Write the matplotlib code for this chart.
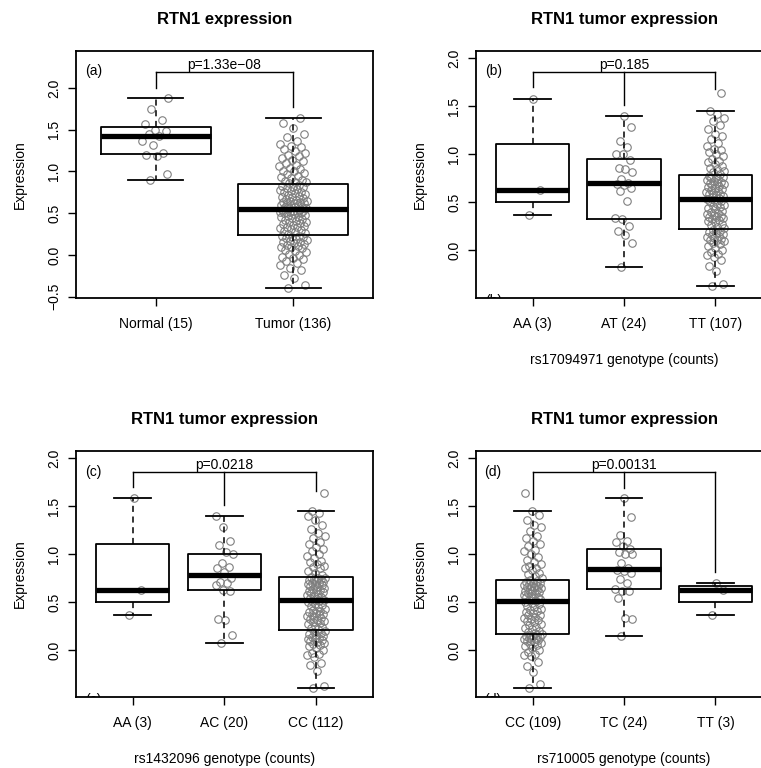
import matplotlib
matplotlib.use("Agg")
import matplotlib.pyplot as plt
import numpy as np

plt.rcParams["font.family"] = ["Liberation Sans", "DejaVu Sans"]

# ---- data (expression values) ----
normal = [0.90, 0.97, 1.18, 1.20, 1.22, 1.32, 1.37, 1.43, 1.45, 1.48, 1.50,
          1.57, 1.62, 1.75, 1.88]
tumor = [-0.40, -0.36, -0.28, -0.24, -0.18, -0.15, -0.12, -0.10, -0.07, -0.05,
         -0.04, -0.02, 0.00, 0.01, 0.03, 0.05, 0.06, 0.08, 0.09, 0.10, 0.11,
         0.12, 0.13, 0.14, 0.15, 0.16, 0.17, 0.18, 0.19, 0.20, 0.21, 0.22,
         0.23, 0.23,
         0.25, 0.26, 0.28, 0.29, 0.30, 0.31, 0.32, 0.33, 0.34, 0.35, 0.36,
         0.37, 0.38, 0.39, 0.40, 0.41, 0.42, 0.43, 0.44, 0.45, 0.46, 0.47,
         0.48, 0.49, 0.50, 0.50, 0.51, 0.51, 0.52, 0.52, 0.53, 0.53, 0.54, 0.54,
         0.56, 0.56, 0.57, 0.58, 0.58, 0.59, 0.60, 0.60, 0.61, 0.62, 0.62,
         0.63, 0.64, 0.65, 0.65, 0.66, 0.67, 0.68, 0.69, 0.70, 0.71, 0.72,
         0.73, 0.74, 0.75, 0.76, 0.77, 0.78, 0.79, 0.80, 0.81, 0.82, 0.83, 0.84,
         0.86, 0.87, 0.88, 0.89, 0.90, 0.92, 0.93, 0.95, 0.97, 0.98, 1.00,
         1.01, 1.03, 1.04, 1.06, 1.08, 1.10, 1.12, 1.14, 1.16, 1.18, 1.20,
         1.22, 1.24, 1.27, 1.29, 1.30, 1.33, 1.37, 1.41, 1.45, 1.52, 1.58, 1.64]

# rs17094971
b_aa = [0.37, 0.63, 1.58]
b_at = [-0.18, 0.07, 0.16, 0.20, 0.25, 0.32, 0.33, 0.51, 0.62, 0.65, 0.68,
        0.69, 0.70, 0.74, 0.81, 0.85, 0.86, 0.94, 1.00, 1.00, 1.08, 1.14,
        1.28, 1.40]
b_tt = [-0.38, -0.35, -0.22, -0.17, -0.10, -0.07, -0.05, -0.04, -0.02, 0.00,
        0.02, 0.04, 0.06, 0.07, 0.09, 0.10, 0.11, 0.12, 0.13, 0.14, 0.15,
        0.16, 0.17, 0.18, 0.19, 0.20, 0.21,
        0.23, 0.24, 0.26, 0.27, 0.29, 0.30, 0.31, 0.32, 0.33, 0.34, 0.35,
        0.36, 0.37, 0.38, 0.39, 0.40, 0.41, 0.43, 0.44, 0.45, 0.46, 0.47,
        0.48, 0.50, 0.51, 0.52, 0.53,
        0.54, 0.55, 0.56, 0.57, 0.58, 0.59, 0.60, 0.61, 0.62, 0.63, 0.64,
        0.65, 0.66, 0.67, 0.68, 0.69, 0.70, 0.70, 0.71, 0.72, 0.73, 0.74,
        0.75, 0.76, 0.76, 0.77,
        0.79, 0.81, 0.83, 0.85, 0.86, 0.88, 0.90, 0.92, 0.93, 0.95, 0.98,
        1.00, 1.02, 1.04, 1.05, 1.09, 1.12, 1.16, 1.19, 1.21, 1.26, 1.30,
        1.35, 1.38, 1.42, 1.45, 1.64]

# rs1432096
c_aa = [0.37, 0.63, 1.58]
c_ac = [0.07, 0.16, 0.31, 0.32, 0.62, 0.63, 0.68, 0.70, 0.71, 0.75, 0.81,
        0.85, 0.87, 0.91, 1.00, 1.02, 1.09, 1.14, 1.28, 1.40]
c_cc = [-0.40, -0.37, -0.22, -0.16, -0.14, -0.07, -0.05, -0.04, -0.03, 0.00,
        0.02, 0.04, 0.05, 0.06, 0.07, 0.08, 0.09, 0.10, 0.11, 0.12, 0.13,
        0.14, 0.15, 0.16, 0.17, 0.18, 0.19, 0.20,
        0.215, 0.23, 0.24, 0.25, 0.27, 0.28, 0.29, 0.30, 0.31, 0.32, 0.33,
        0.34, 0.35, 0.36, 0.37, 0.38, 0.39, 0.40, 0.41, 0.42, 0.43, 0.45,
        0.46, 0.47, 0.48, 0.50, 0.51, 0.515,
        0.525, 0.53, 0.54, 0.55, 0.56, 0.57, 0.58, 0.59, 0.60, 0.61, 0.62,
        0.63, 0.64, 0.65, 0.66, 0.67, 0.68, 0.68, 0.69, 0.70, 0.70, 0.71,
        0.72, 0.73, 0.74, 0.74, 0.75, 0.755,
        0.765, 0.78, 0.80, 0.82, 0.85, 0.87, 0.88, 0.90, 0.92, 0.93, 0.96,
        0.98, 1.00, 1.03, 1.05, 1.07, 1.10, 1.13, 1.17, 1.19, 1.22, 1.26,
        1.30, 1.35, 1.40, 1.43, 1.45, 1.64]

# rs710005
d_cc = [-0.40, -0.35, -0.23, -0.17, -0.12, -0.06, -0.05, -0.04, -0.02, 0.00,
        0.02, 0.04, 0.05, 0.06, 0.07, 0.08, 0.09, 0.10, 0.11, 0.12, 0.12,
        0.13, 0.14, 0.15, 0.15, 0.16, 0.16, 0.17,
        0.18, 0.19, 0.20, 0.22, 0.23, 0.24, 0.26, 0.27, 0.29, 0.30, 0.31,
        0.32, 0.33, 0.34, 0.36, 0.37, 0.39, 0.40, 0.41, 0.42, 0.43, 0.45,
        0.46, 0.48, 0.49, 0.50, 0.51,
        0.52, 0.53, 0.54, 0.55, 0.55, 0.56, 0.57, 0.58, 0.59, 0.60, 0.61,
        0.62, 0.63, 0.64, 0.65, 0.66, 0.66, 0.67, 0.67, 0.68, 0.68, 0.69,
        0.70, 0.70, 0.71, 0.72, 0.73,
        0.75, 0.77, 0.79, 0.80, 0.83, 0.85, 0.86, 0.88, 0.90, 0.92, 0.94,
        0.97, 1.00, 1.03, 1.04, 1.08, 1.10, 1.14, 1.17, 1.19, 1.24, 1.28,
        1.30, 1.36, 1.41, 1.45, 1.64]
d_tc = [0.15, 0.32, 0.33, 0.54, 0.62, 0.62, 0.64, 0.70, 0.74, 0.80, 0.82,
        0.83, 0.85, 0.91, 1.00, 1.00, 1.02, 1.05, 1.08, 1.13, 1.14, 1.20,
        1.39, 1.58]
d_tt = [0.37, 0.63, 0.70]

labels_a = ["Normal (15)", "Tumor (136)"]
labels_b = ["AA (3)", "AT (24)", "TT (107)"]
labels_c = ["AA (3)", "AC (20)", "CC (112)"]
labels_d = ["CC (109)", "TC (24)", "TT (3)"]

pvals = ["p=1.33e\u221208", "p=0.185", "p=0.0218", "p=0.00131"]

# bracket: top line height and where each drop ends
bracket_top = [2.195, 1.86, 1.86, 1.86]
bracket_ends = [[2.00, 1.77], [1.70, 1.51, 1.68], [1.70, 1.51, 1.66],
                [1.57, 1.69, 0.81]]

POINT_COLOR = "#7f7f7f"


def draw_panel(ax, groups, labels, pval, top, ends, tag, ylim, yticks,
               title, xlabel=None, ghost_tag=True):
    n = len(groups)
    pos = np.arange(1, n + 1)

    # jittered open circles
    for p, g in zip(pos, groups):
        k = np.arange(len(g))
        jit = ((k * 0.618034 + 0.31) % 1.0 - 0.5) * 0.2
        ax.plot(p + jit, g, "o", ms=5.4, mfc="none", mec=POINT_COLOR,
                mew=0.8, zorder=1)

    ax.boxplot(groups, positions=pos, widths=0.8, showfliers=False,
               whis=1.5, capwidths=0.4, patch_artist=False,
               boxprops=dict(color="black", lw=1.3),
               medianprops=dict(color="black", lw=3.8, solid_capstyle="butt"),
               whiskerprops=dict(color="black", lw=1.1, linestyle=(0, (4, 3))),
               capprops=dict(color="black", lw=1.3), zorder=2)

    # significance bracket
    ax.plot([pos[0], pos[-1]], [top, top], color="black", lw=1.0, zorder=3)
    for p, e in zip(pos, ends):
        ax.plot([p, p], [e, top], color="black", lw=1.0, zorder=3)
    ax.text((pos[0] + pos[-1]) / 2, top - 0.005, pval, ha="center",
            va="bottom", fontsize=10)

    ax.text(0.058, 0.916, tag, transform=ax.transAxes, ha="center",
            va="center", fontsize=10)
    if ghost_tag:
        ax.text(0.058, -0.012, tag, transform=ax.transAxes, ha="center",
                va="center", fontsize=10, clip_on=True)

    ax.set_xlim(0.5 - 0.04 * n, n + 0.5 + 0.04 * n)
    ax.set_ylim(*ylim)
    ax.set_xticks(pos)
    ax.set_xticklabels(labels, fontsize=10)
    ax.set_yticks(yticks)
    ax.set_yticklabels([f"{t:.1f}".replace("-", "\u2212") for t in yticks],
                       rotation=90, va="center", fontsize=10)
    ax.tick_params(direction="out", length=5.5, width=1.0)
    ax.tick_params(axis="x", pad=8)
    ax.tick_params(axis="y", pad=5)
    ax.set_ylabel("Expression", fontsize=10, labelpad=15)
    if xlabel:
        ax.set_xlabel(xlabel, fontsize=10, labelpad=16)
    for s in ax.spines.values():
        s.set_linewidth(1.3)
    ax.set_title(title, fontsize=12, fontweight="bold", pad=19.5)


fig = plt.figure(figsize=(7.61, 7.68), dpi=100)
fig.patch.set_facecolor("white")

ax_a = fig.add_axes([0.0999, 0.612, 0.390, 0.322])
ax_b = fig.add_axes([0.6255, 0.612, 0.389, 0.322])
ax_c = fig.add_axes([0.0999, 0.092, 0.390, 0.321])
ax_d = fig.add_axes([0.6255, 0.092, 0.389, 0.321])

draw_panel(ax_a, [normal, tumor], labels_a, pvals[0], bracket_top[0],
           bracket_ends[0], "(a)", (-0.515, 2.447),
           [-0.5, 0.0, 0.5, 1.0, 1.5, 2.0], "RTN1 expression",
           ghost_tag=False)
draw_panel(ax_b, [b_aa, b_at, b_tt], labels_b, pvals[1], bracket_top[1],
           bracket_ends[1], "(b)", (-0.50, 2.08),
           [0.0, 0.5, 1.0, 1.5, 2.0], "RTN1 tumor expression",
           xlabel="rs17094971 genotype (counts)")
draw_panel(ax_c, [c_aa, c_ac, c_cc], labels_c, pvals[2], bracket_top[2],
           bracket_ends[2], "(c)", (-0.493, 2.076),
           [0.0, 0.5, 1.0, 1.5, 2.0], "RTN1 tumor expression",
           xlabel="rs1432096 genotype (counts)")
draw_panel(ax_d, [d_cc, d_tc, d_tt], labels_d, pvals[3], bracket_top[3],
           bracket_ends[3], "(d)", (-0.493, 2.076),
           [0.0, 0.5, 1.0, 1.5, 2.0], "RTN1 tumor expression",
           xlabel="rs710005 genotype (counts)")

fig.savefig("out.png", dpi=100, facecolor="white")
plt.close(fig)
